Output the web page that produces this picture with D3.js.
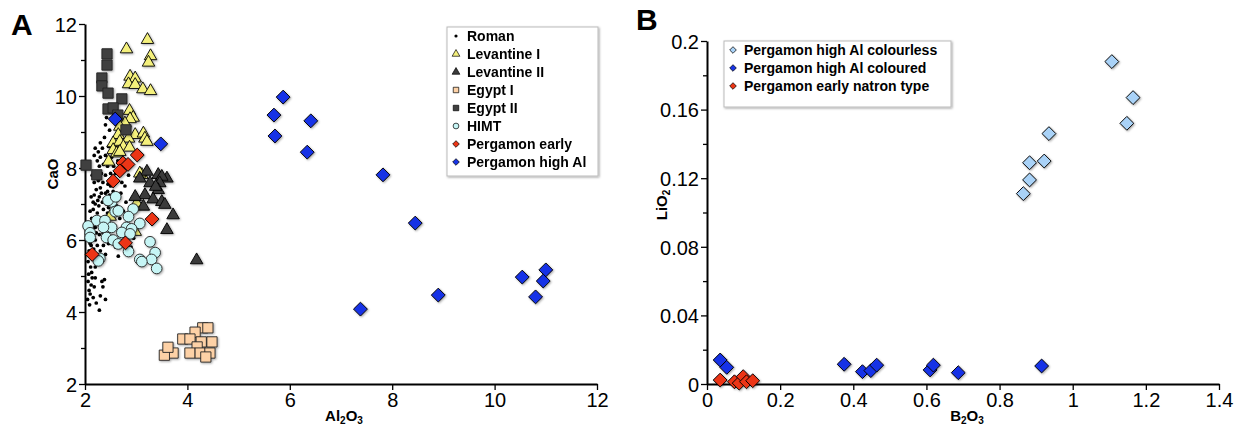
<!DOCTYPE html>
<html lang="en">
<head>
<meta charset="UTF-8">
<title>Pergamon glass: CaO vs Al2O3 and LiO2 vs B2O3</title>
<script src="https://cdnjs.cloudflare.com/ajax/libs/d3/7.8.5/d3.min.js"></script>
<style>
  body { margin: 0; background: #fff; }
  svg { display: block; font-family: "Liberation Sans", Arial, sans-serif; }
  .tick text { font-size: 20px; fill: #000; }
  .axis-title { font-size: 15px; font-weight: bold; }
  .legend-text { font-size: 14px; font-weight: bold; }
</style>
</head>
<body>
<div id="chart"></div>
<script>
// ---- Panel A data: [Al2O3, CaO] ----
const roman = [
  [2.05,4.35],[2.08,4.6],[2.06,4.85],[2.1,4.5],[2.12,4.75],[2.07,5.05],[2.09,4.2],[2.14,4.95],[2.11,5.25],[2.06,5.4],
  [2.13,5.1],[2.16,4.4],[2.18,4.7],[2.15,5.5],[2.08,5.7],[2.12,5.85],[2.2,4.95],[2.22,4.25],[2.3,4.45],[2.35,4.7],
  [2.38,4.9],[2.28,4.05],[2.4,4.35],[2.33,4.85],[2.17,5.75],[2.2,6.0],[2.1,6.1],[2.14,6.35],[2.18,6.6],[2.22,6.2],
  [2.25,6.45],[2.16,6.85],[2.2,7.0],[2.12,7.2],[2.24,6.75],[2.27,6.95],[2.3,6.6],[2.32,6.3],[2.28,7.2],[2.22,7.4],
  [2.18,7.6],[2.14,7.8],[2.2,7.9],[2.26,7.65],[2.3,7.45],[2.34,7.05],[2.36,6.85],[2.38,6.5],[2.4,7.3],[2.42,7.0],
  [2.44,6.75],[2.35,7.6],[2.32,7.85],[2.28,8.05],[2.24,8.2],[2.18,8.35],[2.2,8.55],[2.26,8.45],[2.3,8.3],[2.36,8.1],
  [2.4,7.8],[2.45,7.55],[2.48,7.25],[2.5,7.0],[2.46,6.9],[2.52,6.65],[2.55,7.35],[2.58,7.6],[2.5,7.85],[2.44,8.05],
  [2.4,8.35],[2.34,8.55],[2.3,8.7],[2.38,8.85],[2.46,8.6],[2.52,8.3],[2.56,8.05],[2.6,7.85],[2.62,7.1],[2.66,6.9],
  [2.7,7.3],[2.72,7.6],[2.64,8.2],[2.6,8.45],[2.55,8.7],[2.48,9.05],[2.4,9.2],[2.42,9.4],[2.68,6.6],[2.75,6.8],
  [2.8,7.05],[2.85,6.4],[2.9,6.7],[2.78,7.5],[2.95,7.2],[2.58,6.4],[2.48,6.25],[2.42,6.1],[2.36,5.85],[2.3,5.7],
  [2.26,5.5],[2.2,5.25],[2.24,5.85],[2.34,5.4],[2.4,5.6],[2.46,5.9],[2.54,6.05],[2.6,5.8],[2.7,6.15],[2.65,5.55],
  [2.13,6.6],[2.16,7.05],[2.1,6.8],[2.09,5.55],[2.35,6.2],[2.45,6.5],[2.55,6.75],[2.62,6.95],[2.4,6.65],[2.28,6.15],
  [2.2,6.35],[2.32,7.3],[2.38,7.15],[2.44,7.35],[2.5,7.5],[2.25,7.1],[2.18,7.25],[2.15,6.2],[2.1,5.9],[2.85,7.8],
  [2.95,6.05],[3.0,6.5],[2.9,5.8],[2.8,6.2],[2.75,5.95]
];
const levantine1 = [
  [3.22,11.56],[2.81,11.3],[3.28,11.11],[3.24,10.93],[2.88,10.54],[2.98,10.49],[2.85,10.33],[2.98,10.31],
  [3.13,10.19],[3.28,10.14],[2.87,9.59],[2.94,9.4],[2.88,9.36],[2.78,9.24],[2.68,9.15],[2.65,8.92],
  [2.98,8.92],[3.14,8.96],[3.17,8.82],[3.21,8.73],[2.85,8.82],[2.55,8.69],[2.68,8.73],[2.75,8.59],
  [2.87,8.57],[2.55,8.5],[2.62,8.41],[2.46,8.18],[3.11,7.81],[3.07,7.85],[3.01,7.02],[2.49,6.65],
  [2.98,6.23],[2.68,8.45]
];
const levantine2 = [
  [3.21,7.9],[3.07,7.71],[3.43,7.81],[3.6,7.71],[3.5,7.76],[3.27,7.58],[3.46,7.58],[3.43,7.39],
  [3.17,7.25],[2.98,7.2],[3.33,7.13],[3.5,7.06],[3.56,6.98],[3.14,6.93],[3.72,6.69],[3.6,6.28],
  [4.18,5.44],[3.38,7.48]
];
const egypt1 = [
  [4.3,3.56],[4.4,3.56],[4.15,3.44],[3.91,3.25],[4.05,3.25],[4.27,3.17],[4.48,3.17],[4.19,3.03],
  [4.05,2.86],[4.25,2.86],[4.44,2.86],[4.36,2.75],[3.72,2.86],[3.55,2.8],[3.62,3.02]
];
const egypt2 = [
  [2.43,11.17],[2.43,10.86],[2.33,10.5],[2.33,10.28],[2.45,10.08],[2.72,9.92],[2.45,9.64],[2.55,9.67],
  [2.64,9.47],[2.8,9.06],[2.02,8.08],[2.23,7.81]
];
const himt = [
  [2.52,7.06],[2.59,6.79],[2.65,6.81],[2.94,6.86],[2.85,6.65],[3.07,6.46],[2.23,6.54],[2.39,6.54],
  [2.52,6.35],[2.36,6.35],[2.81,6.35],[2.91,6.31],[2.06,6.39],[2.1,6.2],[2.72,6.21],[2.88,6.17],
  [2.42,6.07],[2.1,6.07],[2.55,6.0],[2.65,5.89],[3.27,5.95],[3.37,5.65],[2.85,5.68],[3.07,5.46],
  [3.3,5.46],[2.29,5.49],[3.4,5.21],[3.11,5.4],[2.26,5.42],[2.45,7.1],[2.6,7.2]
];
const pergEarly = [
  [3.02,8.36],[2.74,8.14],[2.84,8.1],[2.68,7.92],[2.55,7.64],[3.31,6.58],[2.79,5.92],[2.14,5.6]
];
const pergHighAl = [
  [5.69,9.47],[5.71,8.89],[5.87,9.97],[6.41,9.31],[6.34,8.44],[7.82,7.81],[8.45,6.47],[8.9,4.47],
  [7.38,4.08],[10.54,4.97],[11.0,5.17],[10.95,4.86],[10.8,4.42],[2.59,9.36],[3.48,8.67]
];

// ---- Panel B data: [B2O3, LiO2] ----
const colourless = [
  [0.865,0.111],[0.882,0.119],[0.882,0.129],[0.922,0.130],[0.935,0.146],[1.107,0.188],[1.165,0.167],[1.148,0.152]
];
const coloured = [
  [0.036,0.014],[0.054,0.0097],[0.375,0.0115],[0.425,0.0072],[0.448,0.0078],[0.464,0.011],
  [0.61,0.0082],[0.619,0.011],[0.687,0.0066],[0.915,0.0105]
];
const earlyNatron = [
  [0.036,0.0023],[0.075,0.0013],[0.088,0.0005],[0.099,0.0043],[0.108,0.0013],[0.125,0.0019]
];

// tick values
const ticksAx = [2, 4, 6, 8, 10, 12];
const ticksAy = [2, 4, 6, 8, 10, 12];
const minorAy = [3, 5, 7, 9, 11];
const ticksBx = [0, 0.2, 0.4, 0.6, 0.8, 1, 1.2, 1.4];
const ticksBy = [0, 0.04, 0.08, 0.12, 0.16, 0.2];
const minorBy = [0.02, 0.06, 0.1, 0.14, 0.18];

const width = 1244, height = 430;
const svg = d3.select("#chart").append("svg")
  .attr("width", width).attr("height", height);

const defs = svg.append("defs");
const shadow = defs.append("filter").attr("id", "shadow")
  .attr("x", "-30%").attr("y", "-30%").attr("width", "160%").attr("height", "160%");
shadow.append("feDropShadow").attr("dx", 1).attr("dy", 1)
  .attr("stdDeviation", 0.8).attr("flood-color", "#000").attr("flood-opacity", 0.35);

// scales
const xA = d3.scaleLinear().domain([2, 12]).range([85, 597]);
const yA = d3.scaleLinear().domain([2, 12]).range([384, 24]);
const xB = d3.scaleLinear().domain([0, 1.4]).range([707, 1219]);
const yB = d3.scaleLinear().domain([0, 0.2]).range([384, 41]);

const fmtB = d => d === 0 ? "0" : d3.format("~g")(d);

function drawAxes(x, y, xt, yt, yminor, fmt) {
  svg.append("g").attr("transform", `translate(0,${y.range()[0]})`)
    .call(d3.axisBottom(x).tickValues(xt).tickSize(6).tickSizeOuter(0).tickPadding(3).tickFormat(fmt));
  const gy = svg.append("g").attr("transform", `translate(${x.range()[0]},0)`)
    .call(d3.axisLeft(y).tickValues(yt).tickSize(6).tickSizeOuter(0).tickPadding(2).tickFormat(fmt));
  svg.append("g").attr("transform", `translate(${x.range()[0]},0)`)
    .call(d3.axisLeft(y).tickValues(yminor).tickSize(4).tickFormat(""))
    .call(g => g.select(".domain").remove());
  svg.selectAll(".domain").attr("stroke", "#000").attr("stroke-width", 2);
  svg.selectAll(".tick line").attr("stroke", "#000").attr("stroke-width", 1.3);
  gy.selectAll(".tick text").attr("dy", "0.36em");
}

drawAxes(xA, yA, ticksAx, ticksAy, minorAy, d3.format("d"));
drawAxes(xB, yB, ticksBx, ticksBy, minorBy, fmtB);

// symbols
const sym = {
  dot: d3.symbol().type(d3.symbolCircle).size(11),
  tri: d3.symbol().type(d3.symbolTriangle).size(68),
  sq: d3.symbol().type(d3.symbolSquare).size(105),
  circ: d3.symbol().type(d3.symbolCircle).size(90),
  dia: d3.symbol().type(d3.symbolSquare).size(96)
};

function plot(data, x, y, shape, fill, stroke, useShadow) {
  const rot = shape === "dia" ? " rotate(45)" : "";
  const g = svg.append("g");
  if (useShadow) g.attr("filter", "url(#shadow)");
  g.selectAll("path").data(data).join("path")
    .attr("d", sym[shape]())
    .attr("transform", d => `translate(${x(d[0])},${y(d[1])})${rot}`)
    .attr("fill", fill)
    .attr("stroke", stroke)
    .attr("stroke-width", shape === "dot" ? 0 : 0.9);
}

const colors = {
  lev1: "#f4f07c", lev2: "#3b3b3b", egy1: "#fdd1a6", egy2: "#404040",
  himt: "#c6f5f5", early: "#ec3414", high: "#1733e6", colourless: "#a9d2f7"
};

plot(roman, xA, yA, "dot", "#000", "none", false);
plot(levantine1, xA, yA, "tri", colors.lev1, "#000", true);
plot(levantine2, xA, yA, "tri", colors.lev2, "#000", true);
plot(egypt1, xA, yA, "sq", colors.egy1, "#222", true);
plot(egypt2, xA, yA, "sq", colors.egy2, "#222", true);
plot(himt, xA, yA, "circ", colors.himt, "#222", true);
plot(pergEarly, xA, yA, "dia", colors.early, "#000", true);
plot(pergHighAl, xA, yA, "dia", colors.high, "#000", true);

plot(colourless, xB, yB, "dia", colors.colourless, "#000", true);
plot(coloured, xB, yB, "dia", colors.high, "#000", true);
plot(earlyNatron, xB, yB, "dia", colors.early, "#000", true);

// panel letters
svg.append("text").attr("x", 11).attr("y", 35).attr("font-size", 30).attr("font-weight", "bold").text("A");
svg.append("text").attr("x", 636).attr("y", 30).attr("font-size", 30).attr("font-weight", "bold").text("B");

// axis titles with subscripts
function title(x, y, parts, rotate) {
  const t = svg.append("text").attr("class", "axis-title").attr("text-anchor", "middle")
    .attr("transform", `translate(${x},${y})${rotate ? " rotate(-90)" : ""}`);
  parts.forEach(p => {
    t.append("tspan").text(p[0])
      .attr("font-size", p[1] ? 10 : 15)
      .attr("dy", p[1] ? 3 : (p[2] ? -3 : 0));
  });
}
title(344, 421, [["Al"], ["2", true], ["O", false, true], ["3", true]], false);
title(967, 421, [["B"], ["2", true], ["O", false, true], ["3", true]], false);
svg.append("text").attr("class", "axis-title").attr("text-anchor", "middle")
  .attr("transform", "translate(58,174) rotate(-90)").text("CaO");
title(667, 205, [["LiO"], ["2", true]], true);

// legends
function legend(x0, y0, w, h, items) {
  const g = svg.append("g");
  g.append("rect").attr("x", x0).attr("y", y0).attr("width", w).attr("height", h)
    .attr("fill", "#fff").attr("stroke", "#bbb").attr("stroke-width", 1)
    .attr("filter", "url(#shadow)");
  items.forEach((it, i) => {
    const cy = y0 + 9 + i * 18;
    const mx = x0 + 9;
    const size = { dot: 8, tri: 26, sq: 30, circ: 26, dia: 22 }[it.shape];
    g.append("path")
      .attr("d", d3.symbol().type(it.shape === "tri" ? d3.symbolTriangle :
        (it.shape === "sq" || it.shape === "dia") ? d3.symbolSquare : d3.symbolCircle).size(size)())
      .attr("transform", `translate(${mx},${cy})${it.shape === "dia" ? " rotate(45)" : ""}`)
      .attr("fill", it.fill).attr("stroke", it.shape === "dot" ? "none" : "#000").attr("stroke-width", 0.7);
    g.append("text").attr("class", "legend-text").attr("x", x0 + 20).attr("y", cy).attr("dy", "0.36em").text(it.label);
  });
}

legend(447, 27, 151, 149, [
  { label: "Roman", shape: "dot", fill: "#000" },
  { label: "Levantine I", shape: "tri", fill: colors.lev1 },
  { label: "Levantine II", shape: "tri", fill: colors.lev2 },
  { label: "Egypt I", shape: "sq", fill: colors.egy1 },
  { label: "Egypt II", shape: "sq", fill: colors.egy2 },
  { label: "HIMT", shape: "circ", fill: colors.himt },
  { label: "Pergamon early", shape: "dia", fill: colors.early },
  { label: "Pergamon high Al", shape: "dia", fill: colors.high }
]);

legend(724, 41, 227, 66, [
  { label: "Pergamon high Al colourless", shape: "dia", fill: colors.colourless },
  { label: "Pergamon high Al coloured", shape: "dia", fill: colors.high },
  { label: "Pergamon early natron type", shape: "dia", fill: colors.early }
]);
</script>
</body>
</html>
